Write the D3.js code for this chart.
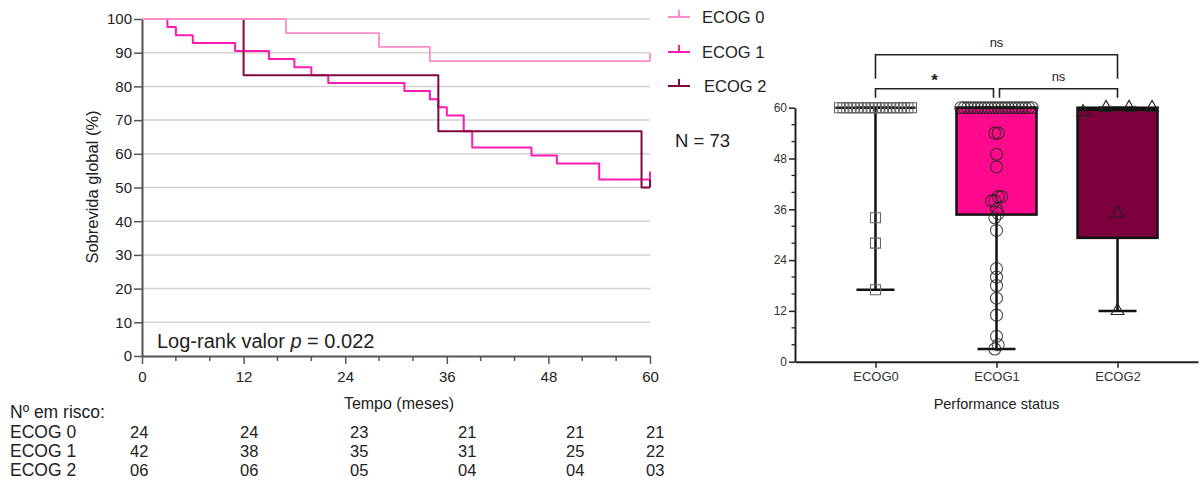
<!DOCTYPE html>
<html>
<head>
<meta charset="utf-8">
<script src="https://cdn.jsdelivr.net/npm/d3@7"></script>
<style>
  body { margin: 0; background: #fff; }
  svg { display: block; font-family: "Liberation Sans", Arial, sans-serif; }
</style>
</head>
<body>
<svg id="chart" width="1200" height="488"></svg>
<script>
// ---- Kaplan-Meier data (month, survival %) ----
const kmGroups = ['ECOG 0', 'ECOG 1', 'ECOG 2'];
const kmColors = ['#ff8cca', '#ff1ab4', '#80083f'];
const ecog0Steps = [[0, 100], [17, 95.8], [28, 91.7], [34, 87.5]];
const ecog1Steps = [[0, 100], [3, 97.6], [4, 95.2], [6, 92.9], [11, 90.5], [15, 88.1], [18, 85.7],
  [20, 83.3], [22, 81.0], [31, 78.6], [34, 76.2], [35, 73.8], [36, 71.4], [38, 66.7],
  [39, 61.9], [46, 59.5], [49, 57.1], [54, 52.4]];
const ecog2Steps = [[0, 100], [12, 83.3], [35, 66.7], [59, 50.0]];
const kmEnd = 60;
const kmXTicks = [0, 12, 24, 36, 48, 60];
const kmXMinor = [4, 8, 16, 20, 28, 32, 40, 44, 52, 56];
const kmYTicks = [0, 10, 20, 30, 40, 50, 60, 70, 80, 90, 100];

// ---- number at risk ----
const riskLabels = ['ECOG 0', 'ECOG 1', 'ECOG 2'];
const riskEcog0 = ['24', '24', '23', '21', '21', '21'];
const riskEcog1 = ['42', '38', '35', '31', '25', '22'];
const riskEcog2 = ['06', '06', '05', '04', '04', '03'];

// ---- box plot data (months) ----
const boxCategories = ['ECOG0', 'ECOG1', 'ECOG2'];
const boxFills = ['#ffffff', '#ff0a8c', '#7b003c'];
const ecog0Months = [17, 28, 34, 60, 60, 60, 60, 60, 60, 60, 60, 60, 60, 60, 60, 60, 60, 60, 60, 60, 60, 60, 60, 60];
const ecog1Months = [3, 4, 6, 11, 15, 18, 20, 22, 31, 34, 35, 36, 38, 38, 39, 39, 46, 49, 54, 54,
  60, 60, 60, 60, 60, 60, 60, 60, 60, 60, 60, 60, 60, 60, 60, 60, 60, 60, 60, 60, 60, 60];
const ecog2Months = [12, 35, 59, 60, 60, 60];
const boxYTicks = [0, 12, 24, 36, 48, 60];
const boxYMinor = [4, 8, 16, 20, 28, 32, 40, 44, 52, 56];
const comparisons = [
  { a: 'ECOG0', b: 'ECOG2', label: 'ns', level: 1 },
  { a: 'ECOG0', b: 'ECOG1', label: '*', level: 0 },
  { a: 'ECOG1', b: 'ECOG2', label: 'ns', level: 0 }
];

const svg = d3.select('#chart');
const font = '"Liberation Sans", Arial, sans-serif';

// =========== Kaplan-Meier panel ===========
const x = d3.scaleLinear().domain([0, 60]).range([142, 650]);
const y = d3.scaleLinear().domain([0, 100]).range([356, 19]);

svg.append('g').selectAll('line')
  .data(kmYTicks.filter(d => d > 0))
  .enter().append('line')
  .attr('x1', x(0)).attr('x2', x(60))
  .attr('y1', d => y(d)).attr('y2', d => y(d))
  .attr('stroke', '#d2d2d2').attr('stroke-width', 1.5);

const gY = svg.append('g')
  .attr('transform', 'translate(' + x(0) + ',0)')
  .call(d3.axisLeft(y).tickValues(kmYTicks).tickSize(8).tickPadding(2).tickSizeOuter(0));

const gX = svg.append('g')
  .attr('transform', 'translate(0,' + y(0) + ')')
  .call(d3.axisBottom(x).tickValues(kmXTicks).tickSize(8).tickPadding(7).tickSizeOuter(0));

svg.append('g')
  .attr('transform', 'translate(0,' + y(0) + ')')
  .selectAll('line').data(kmXMinor).enter().append('line')
  .attr('x1', d => x(d)).attr('x2', d => x(d))
  .attr('y1', 0).attr('y2', 5)
  .attr('stroke', '#555').attr('stroke-width', 1.5);

[gY, gX].forEach(g => {
  g.attr('font-family', font);
  g.select('.domain').attr('stroke', '#555').attr('stroke-width', 2);
  g.selectAll('.tick line').attr('stroke', '#555').attr('stroke-width', 1.5);
  g.selectAll('.tick text').attr('font-size', 15).attr('fill', '#222');
});

svg.append('text')
  .attr('transform', 'translate(98,187) rotate(-90)')
  .attr('text-anchor', 'middle')
  .attr('font-size', 16.5).attr('fill', '#222')
  .text('Sobrevida global (%)');

svg.append('text')
  .attr('x', (x(0) + x(60)) / 2 + 3).attr('y', 409)
  .attr('text-anchor', 'middle')
  .attr('font-size', 16).attr('fill', '#222')
  .text('Tempo (meses)');

// curves: ECOG 1 below, ECOG 2, ECOG 0 on top
const stepLine = d3.line().x(d => x(d[0])).y(d => y(d[1])).curve(d3.curveStepAfter);
const kmSeries = [ecog0Steps, ecog1Steps, ecog2Steps];
[1, 2, 0].forEach(i => {
  const steps = kmSeries[i];
  const last = steps[steps.length - 1][1];
  const pts = steps.concat([[kmEnd, last]]);
  svg.append('path')
    .attr('d', stepLine(pts) + 'M' + x(kmEnd) + ',' + y(last) + 'v-8')
    .attr('fill', 'none')
    .attr('stroke', kmColors[i])
    .attr('stroke-width', i === 0 ? 1.8 : 2)
    .attr('stroke-linejoin', 'round');
});

// legend
const legend = svg.append('g');
kmGroups.forEach((g, i) => {
  const ly = [17, 52, 86][i];
  legend.append('path')
    .attr('d', 'M668,' + ly + 'h22M679,' + ly + 'v-7')
    .attr('stroke', kmColors[i]).attr('stroke-width', 2).attr('fill', 'none');
  legend.append('text')
    .attr('x', 702 + (i === 2 ? 2 : 0)).attr('y', ly + 6)
    .attr('font-size', 16.5).attr('fill', '#222')
    .text(g);
});

svg.append('text')
  .attr('x', 675).attr('y', 147)
  .attr('font-size', 18.5).attr('fill', '#222')
  .text('N = 73');

const lr = svg.append('text')
  .attr('x', 157).attr('y', 348)
  .attr('font-size', 20).attr('fill', '#222');
lr.append('tspan').text('Log-rank valor ');
lr.append('tspan').attr('font-style', 'italic').text('p');
lr.append('tspan').text(' = 0.022');

// number at risk table
const riskColX = [130, 240, 350, 458, 566, 646];
const riskRows = [riskEcog0, riskEcog1, riskEcog2];
const riskRowY = [438, 457, 476];
svg.append('text')
  .attr('x', 10).attr('y', 418)
  .attr('font-size', 17.5).attr('fill', '#222')
  .text('Nº em risco:');
riskRows.forEach((row, r) => {
  svg.append('text')
    .attr('x', 10).attr('y', riskRowY[r])
    .attr('font-size', 17.5).attr('fill', '#222')
    .text(riskLabels[r]);
  row.forEach((v, c) => {
    svg.append('text')
      .attr('x', riskColX[c]).attr('y', riskRowY[r])
      .attr('font-size', 16.5).attr('fill', '#222')
      .text(v);
  });
});

// =========== Box plot panel ===========
const xB = d3.scalePoint().domain(boxCategories).range([795, 1198]).padding(0.665);
const yB = d3.scaleLinear().domain([0, 60]).range([361.7, 107.7]);

const gBY = svg.append('g')
  .attr('transform', 'translate(795,0)')
  .call(d3.axisLeft(yB).tickValues(boxYTicks).tickSize(6).tickPadding(2).tickSizeOuter(0));
svg.append('g')
  .attr('transform', 'translate(795,0)')
  .selectAll('line').data(boxYMinor).enter().append('line')
  .attr('x1', -3.5).attr('x2', 0)
  .attr('y1', d => yB(d)).attr('y2', d => yB(d))
  .attr('stroke', '#222').attr('stroke-width', 1.3);
const gBX = svg.append('g')
  .attr('transform', 'translate(0,' + yB(0) + ')')
  .call(d3.axisBottom(xB).tickSize(6).tickPadding(4).tickSizeOuter(0));

gBY.attr('font-family', font);
gBX.attr('font-family', font);
gBY.select('.domain').attr('stroke', '#222').attr('stroke-width', 2);
gBX.select('.domain').attr('stroke', '#222').attr('stroke-width', 2);
gBY.selectAll('.tick line').attr('stroke', '#222').attr('stroke-width', 1.5);
gBX.selectAll('.tick line').attr('stroke', '#222').attr('stroke-width', 1.5);
gBY.selectAll('.tick text').attr('font-size', 12).attr('fill', '#333');
gBX.selectAll('.tick text').attr('font-size', 13).attr('fill', '#333');

svg.append('text')
  .attr('x', xB('ECOG1')).attr('y', 409)
  .attr('text-anchor', 'middle')
  .attr('font-size', 14.5).attr('fill', '#222')
  .text('Performance status');

function quart(sorted, p) {
  const h = (sorted.length + 1) * p;
  const lo = Math.floor(h);
  if (lo < 1) return sorted[0];
  if (lo >= sorted.length) return sorted[sorted.length - 1];
  return sorted[lo - 1] + (h - lo) * (sorted[lo] - sorted[lo - 1]);
}

// spread overlapping points sideways
function spread(vals, spacing) {
  const sorted = vals.slice().sort((a, b) => a - b);
  const out = [];
  let cluster = [];
  const flush = () => {
    const k = cluster.length;
    cluster.forEach((v, i) => out.push({ v: v, dx: (i - (k - 1) / 2) * spacing }));
    cluster = [];
  };
  sorted.forEach(v => {
    if (cluster.length && v - cluster[0] > 1.5) flush();
    cluster.push(v);
  });
  flush();
  return out;
}

const boxSeries = [ecog0Months, ecog1Months, ecog2Months];
const boxSpacing = [3.6, 3.4, 23];
const boxHalf = 40, capHalf = 19;

boxSeries.forEach((vals, i) => {
  const cx = xB(boxCategories[i]);
  const s = vals.slice().sort((a, b) => a - b);
  const q1 = quart(s, 0.25), med = quart(s, 0.5), q3 = quart(s, 0.75);
  const mn = s[0], mx = s[s.length - 1];
  const g = svg.append('g');

  // whiskers
  g.append('path')
    .attr('d', 'M' + cx + ',' + yB(mn) + 'V' + yB(q1) + 'M' + cx + ',' + yB(q3) + 'V' + yB(mx) +
      'M' + (cx - capHalf) + ',' + yB(mn) + 'h' + (2 * capHalf) +
      'M' + (cx - capHalf) + ',' + yB(mx) + 'h' + (2 * capHalf))
    .attr('stroke', '#111').attr('stroke-width', 2.5).attr('fill', 'none');

  // box
  g.append('rect')
    .attr('x', cx - boxHalf).attr('width', 2 * boxHalf)
    .attr('y', yB(q3)).attr('height', yB(q1) - yB(q3))
    .attr('fill', boxFills[i])
    .attr('stroke', '#111').attr('stroke-width', 2.5);
  g.append('line')
    .attr('x1', cx - boxHalf).attr('x2', cx + boxHalf)
    .attr('y1', yB(med)).attr('y2', yB(med))
    .attr('stroke', '#111').attr('stroke-width', 2.5);

  // points
  const pts = spread(vals, boxSpacing[i]);
  const sym = i === 0 ? d3.symbolSquare : (i === 1 ? d3.symbolCircle : d3.symbolTriangle);
  const size = i === 0 ? 100 : (i === 1 ? 113 : 70);
  g.selectAll('path.pt').data(pts).enter().append('path')
    .attr('class', 'pt')
    .attr('d', d3.symbol().type(sym).size(size))
    .attr('transform', d => 'translate(' + (cx + d.dx) + ',' + yB(d.v) + ')')
    .attr('fill', 'none')
    .attr('stroke', i === 0 ? '#666' : '#222')
    .attr('stroke-opacity', i === 1 ? 0.8 : 1)
    .attr('stroke-width', 1.1);
});

// significance brackets
const legBase = yB(60) - 10;
comparisons.forEach(c => {
  let xa = xB(c.a), xb = xB(c.b);
  if (c.level === 0) {
    if (c.b === 'ECOG1') xb -= 3;
    if (c.a === 'ECOG1') xa += 3;
  }
  const top = c.level === 0 ? legBase - 9 : legBase - 43;
  const leg = c.level === 0 ? legBase : legBase - 19;
  svg.append('path')
    .attr('d', 'M' + xa + ',' + leg + 'V' + top + 'H' + xb + 'V' + leg)
    .attr('stroke', '#222').attr('stroke-width', 1.6).attr('fill', 'none');
  svg.append('text')
    .attr('x', (xa + xb) / 2)
    .attr('y', c.label === '*' ? top - 3 : top - 8)
    .attr('text-anchor', 'middle')
    .attr('font-size', c.label === '*' ? 17 : 13)
    .attr('font-weight', c.label === '*' ? 'bold' : 'normal')
    .attr('fill', '#222')
    .text(c.label);
});
</script>
</body>
</html>
